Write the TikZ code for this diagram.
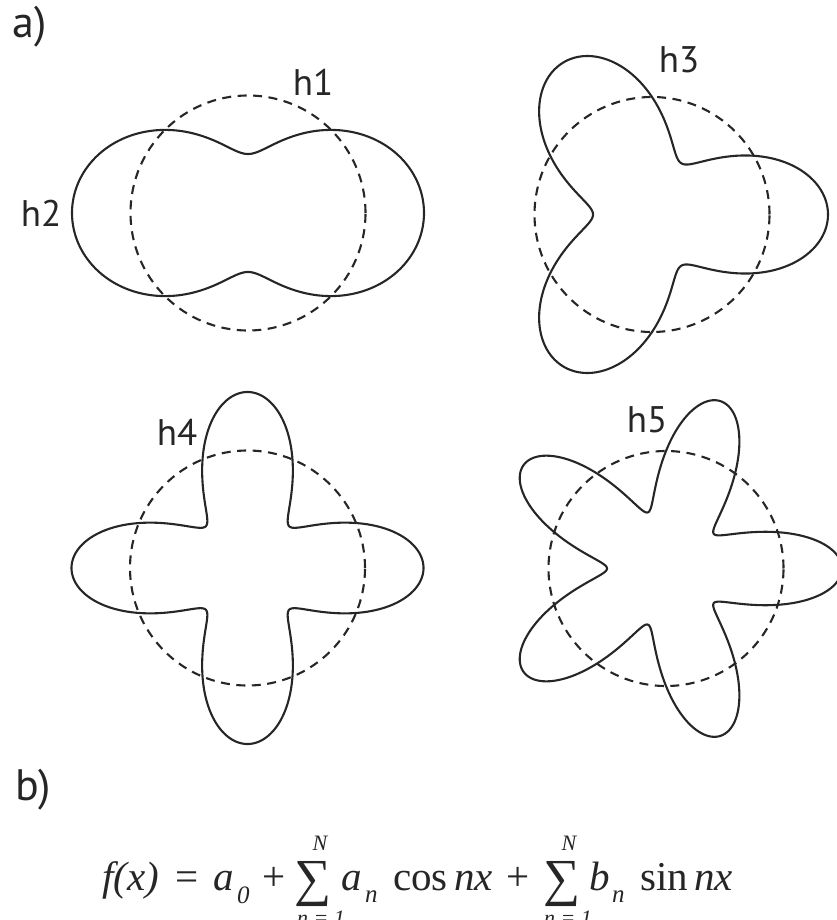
\documentclass[tikz,border=0pt]{standalone}
\usepackage{fontspec}
\setmainfont{Liberation Serif}
\newfontfamily\labfont{PT Sans}
\begin{document}
\begin{tikzpicture}[x=1pt,y=-1pt]
\useasboundingbox (0,0) rectangle (836,920);
\tikzset{
  harm/.style={line width=2.1pt, black!85, line join=round},
  refc/.style={line width=2.1pt, black!85, dash pattern=on 9pt off 6.5pt},
  lab/.style={font=\labfont\fontsize{37}{40}\selectfont, inner sep=0pt, text=black!85},
  part/.style={font=\labfont\fontsize{44}{48}\selectfont, inner sep=0pt, text=black!85},
  fm/.style={font=\fontsize{41}{50}\selectfont, inner sep=0pt, text=black!85},
  fmi/.style={font=\fontsize{41}{50}\selectfont\itshape, inner sep=0pt, text=black!85},
  fsum/.style={font=\fontsize{52}{60}\selectfont, inner sep=0pt, text=black!85},
  fsub/.style={font=\fontsize{25}{30}\selectfont\itshape, inner sep=0pt, text=black!85},
  flim/.style={font=\fontsize{22}{26}\selectfont\itshape, inner sep=0pt, text=black!85}
}
% h2 (with h1 circle)
\draw[refc] (248,213) circle[radius=117.5pt];
\draw[harm] plot[domain=0:359, samples=360, variable=\t]
  ({248+(117.5+58.5*cos(2*\t))*cos(\t)}, {213-(117.5+58.5*cos(2*\t))*sin(\t)}) -- cycle;
% h3
\draw[refc] (652,214.5) circle[radius=117.5pt];
\draw[harm] plot[domain=0:359, samples=360, variable=\t]
  ({652+(117.5+58.5*cos(3*\t))*cos(\t)}, {214.5-(117.5+58.5*cos(3*\t))*sin(\t)}) -- cycle;
% h4
\draw[refc] (247.5,568) circle[radius=117.5pt];
\draw[harm] plot[domain=0:359.5, samples=720, variable=\t]
  ({247.5+(117.5+58.5*cos(4*\t))*cos(\t)}, {568-(117.5+58.5*cos(4*\t))*sin(\t)}) -- cycle;
% h5
\draw[refc] (666,568.5) circle[radius=117.5pt];
\draw[harm] plot[domain=0:359.5, samples=720, variable=\t]
  ({666+(117.5+58.5*cos(5*\t))*cos(\t)}, {568.5-(117.5+58.5*cos(5*\t))*sin(\t)}) -- cycle;
% labels
\node[part] (pa) at (30,27) {a)};
\node[lab] (h1) at (313,82) {h1};
\node[lab] (h2) at (41,213) {h2};
\node[lab] (h3) at (679,60) {h3};
\node[lab] (h4) at (177,432) {h4};
\node[lab] (h5) at (647,420) {h5};
\node[part] (pb) at (33,790) {b)};
% formula
\node[fmi, anchor=base west] (f1) at (102,890) {f(x)};
\node[fm, anchor=base] (f2) at (187,890) {=};
\node[fmi, anchor=base west] (f3) at (213,890) {a};
\node[fsub, anchor=base west] (f4) at (237,903) {0};
\node[fm, anchor=base] (f5) at (274,890) {+};
\node[fsum, anchor=base] (f6) at (313,895) {∑};
\node[flim, anchor=base] (f7) at (320,850) {N};
\node[flim, anchor=base] (f8) at (321,925) {n = 1};
\node[fmi, anchor=base west] (f9) at (341,890) {a};
\node[fsub, anchor=base west] (f10) at (365,902) {n};
\node[fm, anchor=base west] (f11) at (393,890) {cos};
\node[fmi, anchor=base west] (f12) at (454,890) {nx};
\node[fm, anchor=base] (f13) at (518,890) {+};
\node[fsum, anchor=base] (f14) at (562,895) {∑};
\node[flim, anchor=base] (f15) at (569,850) {N};
\node[flim, anchor=base] (f16) at (568,925) {n = 1};
\node[fmi, anchor=base west] (f17) at (589,890) {b};
\node[fsub, anchor=base west] (f18) at (612,902) {n};
\node[fm, anchor=base west] (f19) at (640,890) {sin};
\node[fmi, anchor=base west] (f20) at (694,890) {nx};
\end{tikzpicture}
\end{document}
